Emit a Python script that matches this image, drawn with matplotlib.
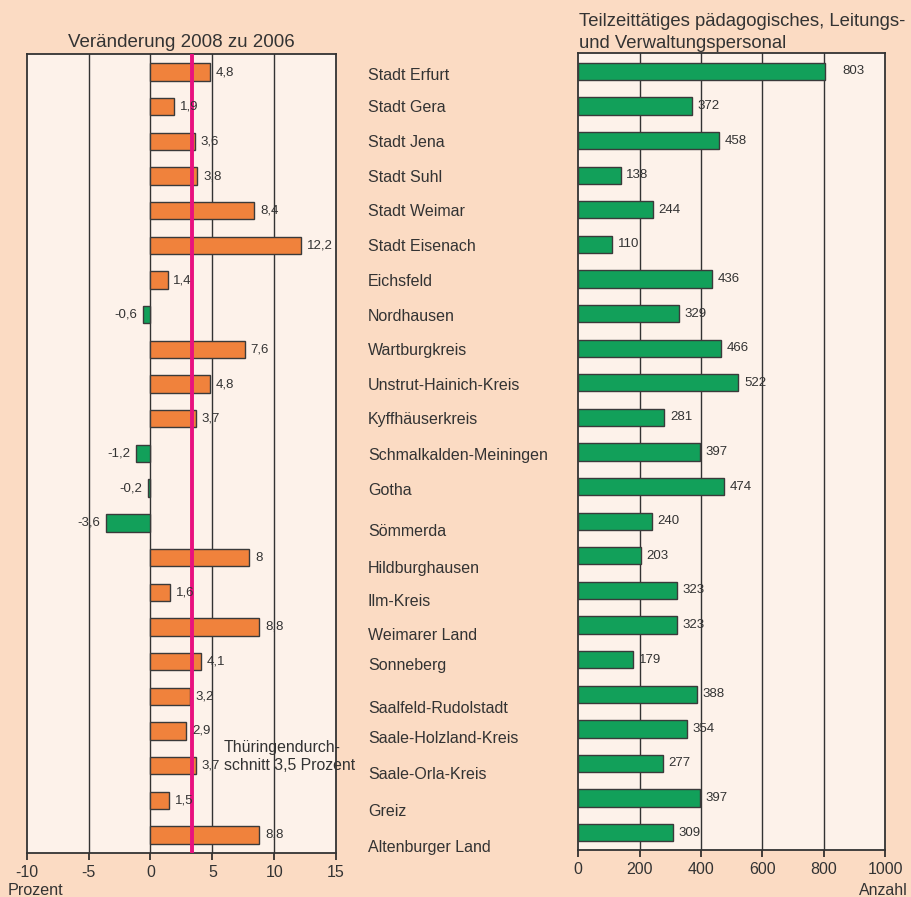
import matplotlib
matplotlib.use("Agg")
import matplotlib.pyplot as plt
import matplotlib.transforms as mtransforms

districts = ["Stadt Erfurt", "Stadt Gera", "Stadt Jena", "Stadt Suhl", "Stadt Weimar",
             "Stadt Eisenach", "Eichsfeld", "Nordhausen", "Wartburgkreis",
             "Unstrut-Hainich-Kreis", "Kyffhäuserkreis", "Schmalkalden-Meiningen",
             "Gotha", "Sömmerda", "Hildburghausen", "Ilm-Kreis", "Weimarer Land",
             "Sonneberg", "Saalfeld-Rudolstadt", "Saale-Holzland-Kreis",
             "Saale-Orla-Kreis", "Greiz", "Altenburger Land"]
change_pct = [4.8, 1.9, 3.6, 3.8, 8.4, 12.2, 1.4, -0.6, 7.6, 4.8, 3.7, -1.2, -0.2,
              -3.6, 8, 1.6, 8.8, 4.1, 3.2, 2.9, 3.7, 1.5, 8.8]
count_parttime = [803, 372, 458, 138, 244, 110, 436, 329, 466, 522, 281, 397, 474,
                  240, 203, 323, 323, 179, 388, 354, 277, 397, 309]
avg_line_value = 3.35
avg_label = "Thüringendurch-\nschnitt 3,5 Prozent"
left_ticks = [-10, -5, 0, 5, 10, 15]
right_ticks = [0, 200, 400, 600, 800, 1000]
# label vertical drift (pixels) of the centre district names
label_drift = [3, 1, 1, 1, 1, 1, 1, 2, 1, 1, 1, 2, 2, 9, 11, 9, 9, 4, 12, 8, 9, 11, 13]

BG = "#FBDBC3"
AXBG = "#FDF2EA"
ORANGE = "#F0823C"
GREEN = "#12A05A"
TXT = "#333333"
MAGENTA = "#E8117F"

plt.rcParams['font.family'] = ['Liberation Sans', 'DejaVu Sans']

fig = plt.figure(figsize=(9.12, 8.97), dpi=100, facecolor=BG)
axL = fig.add_axes([0.0293, 0.0491, 0.3392, 0.8907], facecolor=AXBG)
axR = fig.add_axes([0.6341, 0.0524, 0.3363, 0.8885], facecolor=AXBG)

n = len(districts)
ypos = list(range(n))

# Left chart
colors = [ORANGE if v >= 0 else GREEN for v in change_pct]
axL.barh(ypos, change_pct, height=0.5, color=colors, edgecolor="#3a3a3a", linewidth=1, zorder=3)
axL.set_xlim(-10, 15)
axL.set_ylim(n - 0.48, -0.52)
for x in left_ticks[1:-1]:
    axL.axvline(x, color="#333333", lw=1, zorder=1)
axL.axvline(avg_line_value, color=MAGENTA, lw=2.8, zorder=4)
for y, v in zip(ypos, change_pct):
    s = f"{v:g}".replace(".", ",")
    if v >= 0:
        axL.annotate(s, (v, y), xytext=(4, 0), textcoords="offset points",
                     ha="left", va="center", fontsize=9.5, color=TXT, zorder=5)
    else:
        axL.annotate(s, (v, y), xytext=(-4, 0), textcoords="offset points",
                     ha="right", va="center", fontsize=9.5, color=TXT, zorder=5)
axL.text(5.95, 19.74, avg_label, ha="left", va="center", fontsize=11.4, color=TXT,
         linespacing=1.2, zorder=5)
axL.set_xticks(left_ticks)
axL.set_xticklabels([str(t) for t in left_ticks], fontsize=11.5, color=TXT)
axL.set_yticks([])
axL.tick_params(axis="x", direction="out", length=5, width=1.2, color="#222222", pad=4)
for sp in axL.spines.values():
    sp.set_color("#333333")
    sp.set_linewidth(1.3)
axL.set_title("Veränderung 2008 zu 2006", fontsize=13.5, color=TXT, pad=5)
fig.text(8 / 912, 1 - 890 / 897, "Prozent", fontsize=11.6, color=TXT, ha="left", va="center")

# Right chart
axR.barh(ypos, count_parttime, height=0.5, color=GREEN, edgecolor="#3a3a3a", linewidth=1, zorder=3)
axR.set_xlim(0, 1000)
axR.set_ylim(n - 0.5, -0.53)
for x in right_ticks[1:-1]:
    axR.axvline(x, color="#333333", lw=1, zorder=1)
for y, v in zip(ypos, count_parttime):
    off = 13 if v > 700 else 4
    axR.annotate(str(v), (v, y), xytext=(off, 0), textcoords="offset points",
                 ha="left", va="center", fontsize=9.5, color=TXT, zorder=5)
axR.set_xticks(right_ticks)
axR.set_xticklabels([str(t) for t in right_ticks], fontsize=11.5, color=TXT)
axR.set_yticks([])
axR.tick_params(axis="x", direction="out", length=5, width=1.2, color="#222222", pad=4)
for sp in axR.spines.values():
    sp.set_color("#333333")
    sp.set_linewidth(1.3)
fig.text(579 / 912, 1 - 26 / 897, "Teilzeittätiges pädagogisches, Leitungs-",
         fontsize=13.3, color=TXT, ha="left", va="baseline")
fig.text(579 / 912, 1 - 48 / 897, "und Verwaltungspersonal",
         fontsize=13.3, color=TXT, ha="left", va="baseline")
fig.text(908 / 912, 1 - 890 / 897, "Anzahl", fontsize=11.4, color=TXT, ha="right", va="center")

# Centre district labels
blend = mtransforms.blended_transform_factory(fig.transFigure, axL.transData)
for y, name, d in zip(ypos, districts, label_drift):
    tr = mtransforms.offset_copy(blend, fig=fig, x=0, y=-d, units="dots")
    fig.text(368 / 912, y, name, transform=tr, fontsize=11.5, color=TXT, ha="left", va="center")

fig.savefig("out.png", dpi=100, facecolor=BG)
